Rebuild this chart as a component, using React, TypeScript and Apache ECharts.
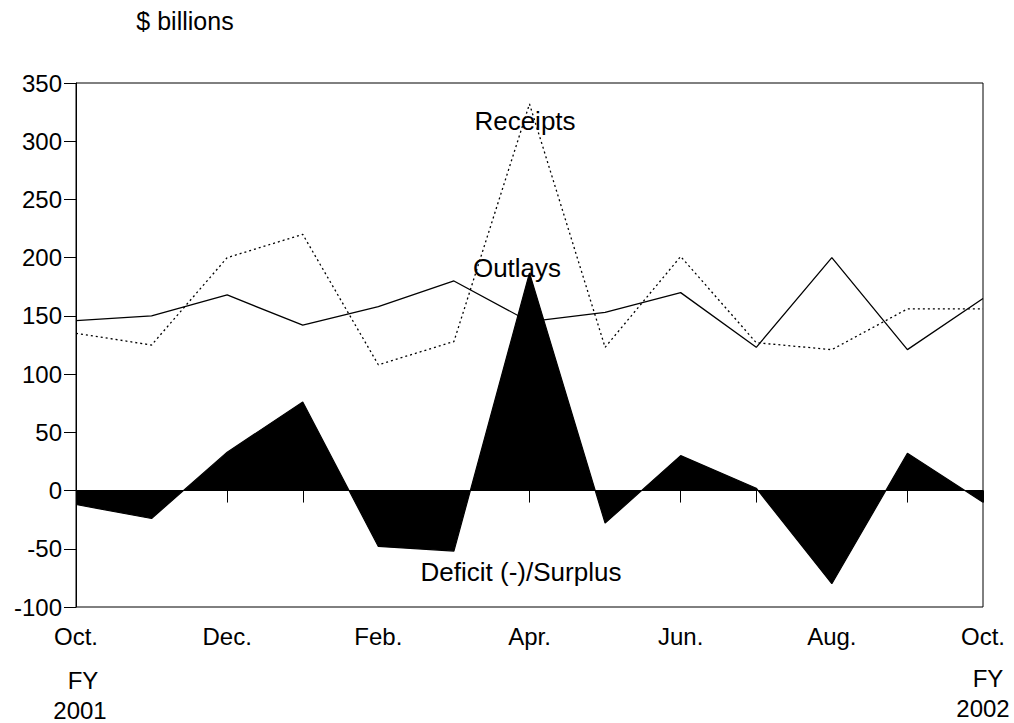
import React, { useEffect, useRef } from "react";
import * as echarts from "echarts";

const months = ["Oct.", "Nov.", "Dec.", "Jan.", "Feb.", "Mar.", "Apr.", "May", "Jun.", "Jul.", "Aug.", "Sep.", "Oct."];
const receipts = [135, 125, 200, 220, 108, 128, 332, 123, 201, 127, 121, 156, 156];
const outlays = [146, 150, 168, 142, 158, 180, 145, 153, 170, 123, 200, 121, 165];
const deficitSurplus = [-12, -24, 33, 76, -48, -52, 187, -28, 30, 2, -80, 32, -10];
const yTicks = { min: -100, max: 350, interval: 50 };

const FONT = '"Liberation Sans", Arial, Helvetica, sans-serif';

export default function App() {
  const ref = useRef<HTMLDivElement>(null);
  useEffect(() => {
    document.body.style.margin = "0";
    if (!ref.current) return;
    const chart = echarts.init(ref.current, undefined, { renderer: "svg" });
    const txt = (text: string, x: number, y: number, size = 24) => ({
      type: "text",
      x,
      y,
      style: { text, fontSize: size, fontFamily: FONT, fill: "#000", align: "center", verticalAlign: "middle" },
      z: 100,
    });
    chart.setOption({
      animation: false,
      backgroundColor: "#fff",
      grid: { left: 76, right: 31, top: 83, bottom: 116, show: true, borderColor: "#000", borderWidth: 1, backgroundColor: "transparent" },
      xAxis: {
        type: "category",
        data: months,
        boundaryGap: false,
        axisLine: { lineStyle: { color: "#000", width: 1 } },
        axisTick: { interval: 0, length: 12, lineStyle: { color: "#000" } },
        axisLabel: { interval: 1, color: "#000", fontSize: 24, fontFamily: FONT, margin: 17 },
        splitLine: { show: false },
      },
      yAxis: {
        type: "value",
        min: yTicks.min,
        max: yTicks.max,
        interval: yTicks.interval,
        axisLine: { show: true, lineStyle: { color: "#000", width: 1 } },
        axisTick: { show: true, length: 12, lineStyle: { color: "#000" } },
        axisLabel: { color: "#000", fontSize: 24, fontFamily: FONT, margin: 14 },
        splitLine: { show: false },
      },
      series: [
        {
          name: "Receipts",
          type: "line",
          data: receipts,
          symbol: "none",
          lineStyle: { color: "#000", width: 1.3, type: [2, 3] },
          z: 2,
        },
        {
          name: "Outlays",
          type: "line",
          data: outlays,
          symbol: "none",
          lineStyle: { color: "#000", width: 1.3 },
          z: 2,
        },
        {
          name: "Deficit (-)/Surplus",
          type: "line",
          data: deficitSurplus,
          symbol: "none",
          lineStyle: { color: "#000", width: 1.2 },
          areaStyle: { color: "#000", opacity: 1, origin: 0 },
          z: 3,
          markLine: {
            silent: true,
            symbol: "none",
            label: { show: false },
            lineStyle: { color: "#000", width: 1, type: "solid" },
            data: [{ yAxis: 0 }],
          },
        },
      ],
      graphic: [
        txt("$ billions", 185, 21, 25),
        txt("Receipts", 525, 121, 26),
        txt("Outlays", 517, 268, 26),
        txt("Deficit (-)/Surplus", 521, 572, 26),
        txt("FY", 83, 680),
        txt("2001", 80, 710),
        txt("FY", 988, 678),
        txt("2002", 983, 708),
      ],
    });
    return () => chart.dispose();
  }, []);
  return <div ref={ref} style={{ width: 1014, height: 723 }} />;
}
